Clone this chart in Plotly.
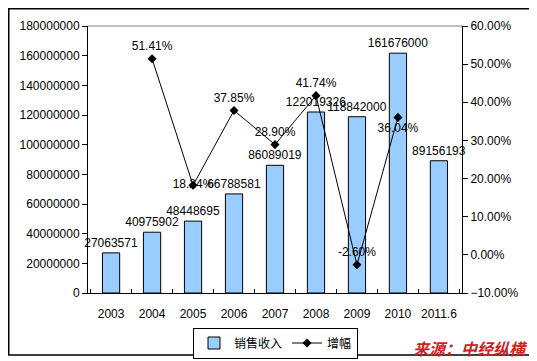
import plotly.graph_objects as go

categories = ["2003", "2004", "2005", "2006", "2007", "2008", "2009", "2010", "2011.6"]
sales = [27063571, 40975902, 48448695, 66788581, 86089019, 122019326, 118842000, 161676000, 89156193]
growth = [None, 51.41, 18.24, 37.85, 28.90, 41.74, -2.60, 36.04, None]
growth_labels = ["", "51.41%", "18.24%", "37.85%", "28.90%", "41.74%", "-2.60%", "36.04%", ""]
growth_label_pos = ["top center", "top center", "middle center", "top center", "top center",
                    "top center", "top center", "bottom center", "top center"]

FONT = "Liberation Sans, Arial, sans-serif"
# the page body adds an 8px offset; size the figure so it fits the 537x361 window
OFF = 8
W, H = 537 - OFF, 361 - OFF

fig = go.Figure()
fig.add_trace(go.Bar(
    x=categories, y=sales, name="销售收入",
    marker=dict(color="#99CCFF", line=dict(color="black", width=1)),
    width=0.42,
    text=[str(v) for v in sales], textposition="outside", constraintext="none",
    textfont=dict(family=FONT, size=12, color="black"),
    cliponaxis=False,
))
fig.add_trace(go.Scatter(
    x=categories, y=growth, name="增幅", yaxis="y2",
    mode="lines+markers+text",
    line=dict(color="black", width=1),
    marker=dict(symbol="diamond", size=7, color="black"),
    text=growth_labels, textposition=growth_label_pos,
    textfont=dict(family=FONT, size=12, color="black"),
    cliponaxis=False, connectgaps=False,
))

fig.update_layout(
    width=W, height=H,
    margin=dict(l=88 - OFF, r=75, t=26 - OFF, b=68, autoexpand=False),
    paper_bgcolor="white", plot_bgcolor="white",
    font=dict(family=FONT, size=12, color="black"),
    xaxis=dict(
        type="category", showline=True, linecolor="black", linewidth=1,
        ticks="inside", ticklen=4, tickcolor="black", tickson="boundaries",
        tickangle=0, automargin=False, ticklabelstandoff=10,
        showgrid=False, tickfont=dict(family=FONT, size=12, color="black"),
    ),
    yaxis=dict(
        range=[0, 180000000], dtick=20000000, tickformat="d",
        showline=True, linecolor="black", linewidth=1,
        ticks="outside", ticklen=5, tickcolor="black",
        showgrid=False, zeroline=False, automargin=False,
        tickfont=dict(family=FONT, size=12, color="black"),
    ),
    yaxis2=dict(
        overlaying="y", side="right", range=[-10, 60], dtick=10,
        ticksuffix="%", tickformat=".2f",
        showline=True, linecolor="black", linewidth=1,
        ticks="outside", ticklen=5, tickcolor="black",
        showgrid=False, zeroline=False, automargin=False,
        tickfont=dict(family=FONT, size=12, color="black"),
    ),
    legend=dict(
        orientation="h", xref="container", yref="container",
        x=(275.5 - OFF) / W, y=1 - (343 - OFF) / H, xanchor="center", yanchor="middle",
        bordercolor="black", borderwidth=1, bgcolor="white",
        font=dict(family="Noto Sans CJK SC", size=12, color="black"),
        itemwidth=30, tracegroupgap=0,
    ),
    showlegend=True,
    shapes=[
        dict(type="line", xref="paper", yref="paper", x0=0, x1=1, y0=1, y1=1,
             line=dict(color="#808080", width=1)),
        dict(type="rect", xref="paper", yref="paper",
             x0=(OFF + 0.75 - 88) / 374, x1=(532 - 88) / 374,
             y0=(293 - 355) / 267, y1=(293 - OFF - 0.75) / 267,
             line=dict(color="black", width=1.5), layer="below"),
    ],
    annotations=[
        dict(text="<b><i>来源：中经纵横</i></b>", xref="paper", yref="paper",
             x=(530 - 88) / 374, y=(293 - 348) / 267, xanchor="right", yanchor="middle",
             showarrow=False,
             font=dict(family="Noto Sans CJK SC", size=16, color="#CC2222")),
    ],
)

fig.write_html("out.html")
